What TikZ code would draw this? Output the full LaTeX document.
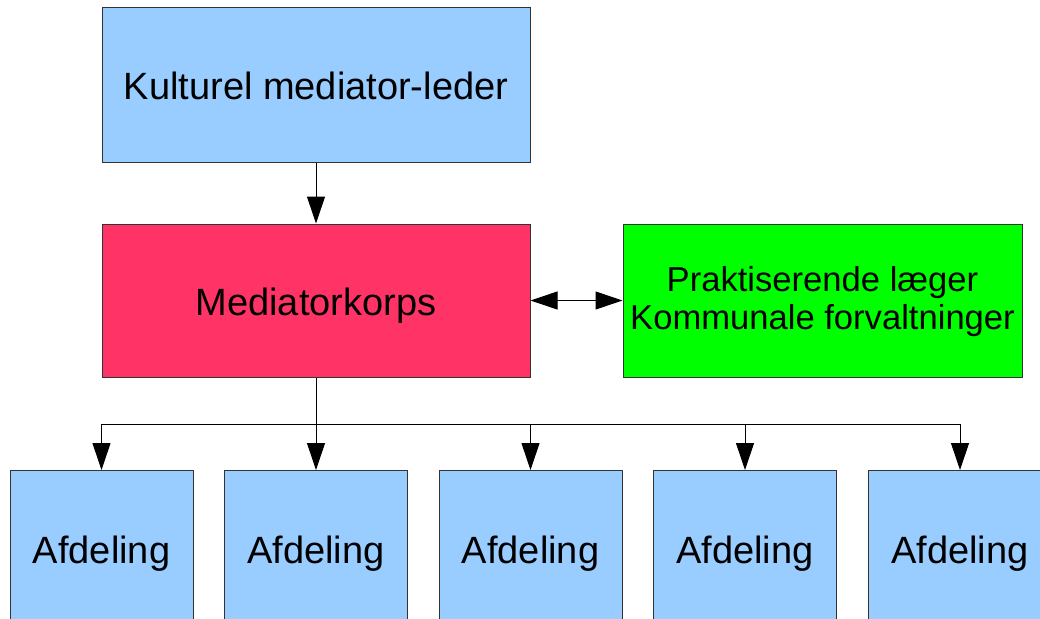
\documentclass[tikz,border=0pt]{standalone}
\usepackage{fontspec}
\setmainfont{Liberation Sans}
\usetikzlibrary{arrows.meta,positioning}
\definecolor{boxblue}{HTML}{99CCFF}
\definecolor{boxred}{HTML}{FF3366}
\definecolor{boxgreen}{HTML}{00FF00}
\definecolor{edge}{HTML}{333333}
\begin{document}
\begin{tikzpicture}[x=1pt,y=-1pt,
  box/.style={draw=edge,line width=1pt,inner sep=0pt,align=center,
    font=\fontsize{38}{44}\selectfont,text height=36pt,text depth=7pt},
  unitbox/.style={box,fill=boxblue,minimum width=183pt,minimum height=156pt,anchor=north},
  conn/.style={line width=1pt,black},
  arr/.style={conn,-{Triangle[length=27pt,width=18pt]}},
  darr/.style={conn,{Triangle[length=27pt,width=18pt]}-{Triangle[length=27pt,width=18pt]}}]
\useasboundingbox (0,0) rectangle (1040,618);
\fill[white] (0,0) rectangle (1040,618);

% upper levels
\node[box,fill=boxblue,minimum width=428pt,minimum height=154pt] (lead) at (316,85) {Kulturel mediator-leder};
\node[box,fill=boxred,minimum width=428pt,minimum height=153pt] (corps) at (316,300.5) {Mediatorkorps};
\node[box,fill=boxgreen,minimum width=399pt,minimum height=153pt,
  font=\fontsize{34.6}{37.3}\selectfont,text height=65pt,text depth=8pt] (ext) at (822.5,300.5)
  {Praktiserende læger\\Kommunale forvaltninger};

% departments
\node[unitbox] (a1) at (101.5,470) {Afdeling};
\node[unitbox] (a2) at (316,470) {Afdeling};
\node[unitbox] (a3) at (530.5,470) {Afdeling};
\node[unitbox] (a4) at (745,470) {Afdeling};
\node[unitbox] (a5) at (960,470) {Afdeling};

% connectors
\draw[arr] (lead.south) -- (corps.north);
\draw[darr] (corps.east) -- (ext.west);
\coordinate (bus) at (316,424);
\draw[conn] (corps.south) -- (bus);
\draw[conn] (bus -| a1.north) -- (bus -| a5.north);
\foreach \i in {1,...,5}
  \draw[arr] (bus -| a\i.north) -- (a\i.north);
\end{tikzpicture}
\end{document}
